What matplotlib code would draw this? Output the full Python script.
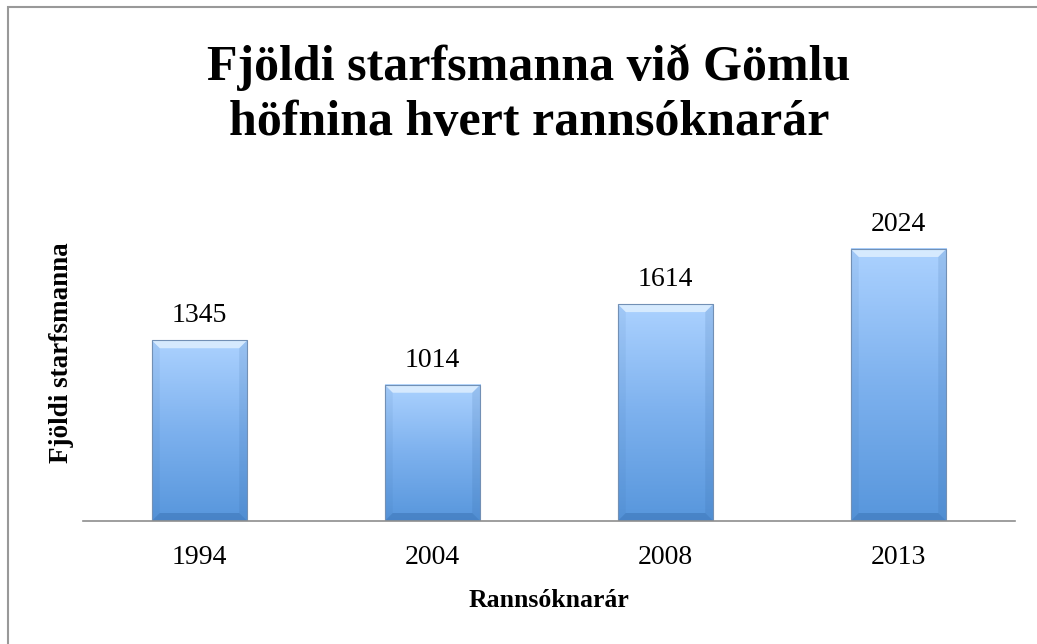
import matplotlib
matplotlib.use("Agg")
import matplotlib.pyplot as plt
from matplotlib.colors import LinearSegmentedColormap
from matplotlib.patches import Polygon, Rectangle
import numpy as np

years = ["1994", "2004", "2008", "2013"]
staff = [1345, 1014, 1614, 2024]

title_lines = ["Fjöldi starfsmanna við Gömlu", "höfnina hvert rannsóknarár"]
xlabel = "Rannsóknarár"
ylabel = "Fjöldi starfsmanna"

serif = "Liberation Serif"
W, H = 1037, 644

fig = plt.figure(figsize=(W / 100, H / 100), dpi=100)
ax = fig.add_axes([83 / W, (H - 521) / H, 932 / W, (521 - 185) / H])

x = np.arange(len(years))
bw = 0.41
bars = ax.bar(x, staff, width=bw, color="none", edgecolor="#7290b5", linewidth=0.8, zorder=4)
ax.set_xlim(-0.5, len(years) - 0.5)
ax.set_ylim(0, 2500)

# gradient fill, light on top, darker at the bottom
grad_cmap = LinearSegmentedColormap.from_list("bar", ["#5796dc", "#7db1ee", "#acd2ff"])
grad = np.linspace(0, 1, 256).reshape(-1, 1)

inv = ax.transData.inverted()
p0 = inv.transform((0, 0))
p1 = inv.transform((8, 8))
dx, dy = p1[0] - p0[0], p1[1] - p0[1]

for b in bars:
    x0, x1 = b.get_x(), b.get_x() + b.get_width()
    h = b.get_height()
    ax.imshow(grad, extent=[x0, x1, 0, h], origin="lower", aspect="auto",
              cmap=grad_cmap, zorder=2, interpolation="bicubic")
    # bevel
    top = Polygon([(x0, h), (x1, h), (x1 - dx, h - dy), (x0 + dx, h - dy)],
                  closed=True, facecolor="#e2f1ff", alpha=0.8, edgecolor="none", zorder=3)
    bot = Polygon([(x0, 0), (x1, 0), (x1 - dx, dy), (x0 + dx, dy)],
                  closed=True, facecolor="#3a72b3", alpha=0.5, edgecolor="none", zorder=3)
    left = Polygon([(x0, 0), (x0, h), (x0 + dx, h - dy), (x0 + dx, dy)],
                   closed=True, facecolor="#2d5f99", alpha=0.08, edgecolor="none", zorder=3)
    right = Polygon([(x1, 0), (x1, h), (x1 - dx, h - dy), (x1 - dx, dy)],
                    closed=True, facecolor="#2d5f99", alpha=0.14, edgecolor="none", zorder=3)
    for p in (top, bot, left, right):
        ax.add_patch(p)
    ax.annotate(str(h), (b.get_x() + b.get_width() / 2, h), xytext=(0, 13),
                textcoords="offset points", ha="center", va="baseline",
                fontsize=20, family=serif, color="black")

ax.set_xticks(x)
ax.set_xticklabels(years, fontsize=20, family=serif)
ax.tick_params(axis="x", length=0, pad=17)
ax.set_yticks([])
for s in ("top", "right", "left"):
    ax.spines[s].set_visible(False)
ax.spines["bottom"].set_color("#8e8e8e")
ax.spines["bottom"].set_linewidth(1.2)
ax.spines["bottom"].set_zorder(5)

fig.text(549 / W, 1 - 607 / H, xlabel, ha="center", va="baseline",
         fontsize=18.5, fontweight="bold", family=serif)
fig.text(62 / W, 1 - 353 / H, ylabel, ha="center", va="center", rotation=90,
         fontsize=19.5, fontweight="bold", family=serif)

for line, base in zip(title_lines, [80, 135]):
    fig.text(529 / W, 1 - base / H, line, ha="center", va="baseline",
             fontsize=36, fontweight="bold", family=serif)

# chart frame, right and bottom edges fall outside the picture
fig.patches.append(Rectangle((7.5 / W, -0.1), 1.2, 1.1 - 7.5 / H,
                             transform=fig.transFigure, fill=False,
                             edgecolor="#999999", linewidth=1.5))

plt.savefig("out.png", dpi=100)
